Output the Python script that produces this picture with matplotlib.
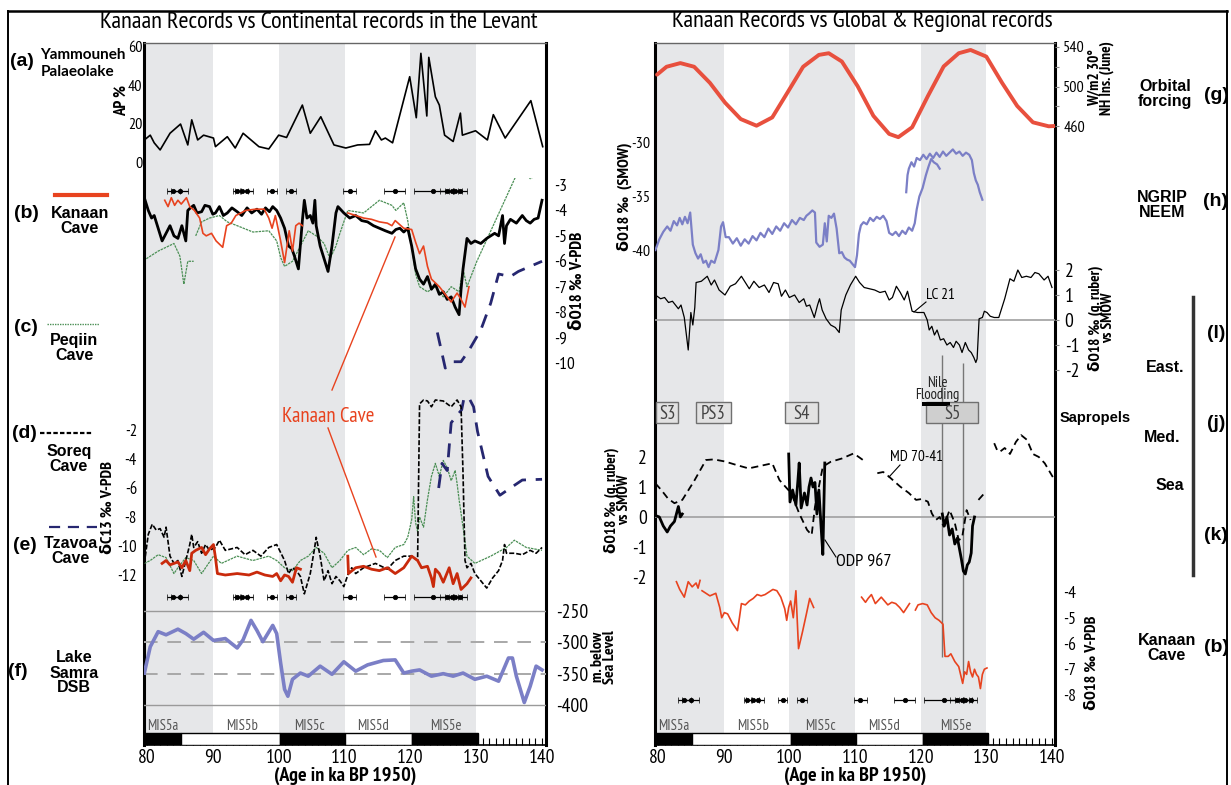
import numpy as np
import matplotlib
matplotlib.use('Agg')
import matplotlib.pyplot as plt
from matplotlib import font_manager as fm
from matplotlib.lines import Line2D
from matplotlib.ticker import MultipleLocator

_names = {f.name for f in fm.fontManager.ttflist}
NARROW = 'Liberation Sans'
for cand in ['PT Sans Narrow', 'Archivo Narrow', 'Liberation Sans Narrow']:
    if cand in _names:
        NARROW = cand
        break
plt.rcParams['font.family'] = [NARROW, 'DejaVu Sans']
plt.rcParams['axes.unicode_minus'] = False

# ---------------- DATA ----------------
bands = [(79.5, 90), (100, 110), (120, 130)]
mis_edges = [79.5, 85.2, 100.2, 110.1, 120.3, 130.3]
mis_colors = ['black', 'white', 'black', 'white', 'black']
mis_names = ['MIS5a', 'MIS5b', 'MIS5c', 'MIS5d', 'MIS5e']
mis_label_ages = [82.4, 94.5, 104.7, 114.4, 125.4]

date_ages = [84.0, 85.0, 93.6, 94.4, 95.2, 99.0, 101.9, 110.8, 117.6, 123.5, 125.5, 126.3, 126.8, 127.6]
date_err = [1.0, 1.3, 0.5, 1.0, 0.9, 0.7, 0.8, 1.0, 1.6, 3.0, 1.0, 1.0, 1.0, 1.0]

# (a) Yammouneh AP %
ap_age = [79.6, 80.5, 81.1, 82.0, 83.5, 85.1, 86.2, 86.8, 87.7, 88.6, 90.1, 90.4, 92.2, 93.4, 94.6, 97.0,
          98.5, 100.0, 101.2, 103.6, 104.8, 106.4, 108.4, 110.2, 112.0, 113.8, 114.7, 115.6, 116.2, 117.3,
          119.9, 120.9, 121.6, 122.5, 122.8, 123.8, 124.4, 125.2, 126.5, 127.6, 127.9, 129.9, 131.7, 132.6,
          134.4, 138.3, 140.1]
ap_val = [11.5, 14, 10, 6.3, 15, 19.8, 8.9, 22, 11.5, 14, 12.5, 8, 13.2, 7.3, 15, 8,
          6.8, 14, 12.8, 29.7, 15, 23.6, 8.9, 7.3, 8.9, 9.2, 16.3, 11.5, 12.5, 10,
          44.5, 23.1, 56.7, 24, 54.6, 34, 29.7, 14, 10.7, 25.5, 14, 16.3, 11.5, 24.7,
          12.5, 32, 8]

# (d) Soreq d18O
soreq_o_age = [79.6, 80.2, 80.7, 81.1, 81.7, 82.3, 82.9, 83.5, 84.1, 84.7, 85.3, 85.9, 86.2, 86.6, 87.1, 87.6,
               88.3, 88.8, 89.5, 90.0, 90.4, 91.0, 91.6, 92.2, 92.9, 93.7, 94.4, 95.2, 95.9, 96.7, 97.4, 98.0,
               98.6, 99.1, 99.7, 100.3, 100.9, 101.5, 102.0, 102.4, 103.0, 103.6, 103.9, 104.3, 104.8, 105.2,
               105.5, 105.7, 106.3, 106.9, 107.5, 108.1, 108.7, 109.0, 109.9, 110.8, 111.7, 112.6, 113.5,
               114.4, 115.3, 116.2, 117.2, 117.8, 118.4, 119.0, 119.6, 120.2, 120.8, 121.4, 122.0, 122.6,
               123.2, 123.8, 124.4, 125.0, 125.6, 126.2, 126.8, 127.4, 127.7, 128.0, 128.6, 129.2, 129.8,
               130.7, 131.6, 132.2, 132.8, 133.4, 134.0, 134.3, 134.6, 135.2, 136.1, 137.0, 137.6, 138.2,
               138.8, 139.4, 140.0]
soreq_o = [-3.5, -4.0, -4.3, -4.2, -4.7, -5.2, -4.9, -4.6, -5.0, -5.1, -4.6, -5.2, -4.0, -3.9, -3.8, -4.1,
           -4.05, -3.8, -3.85, -4.15, -4.1, -3.85, -4.2, -4.1, -3.9, -4.05, -4.2, -3.9, -4.1, -3.95, -4.15, -3.9,
           -4.05, -3.85, -4.0, -4.3, -4.7, -5.4, -5.5, -5.8, -6.3, -4.4, -3.6, -4.3, -4.2, -4.5,
           -3.6, -4.6, -5.4, -5.9, -6.4, -5.4, -4.1, -3.85, -4.1, -4.3, -4.2, -4.4, -4.45,
           -4.6, -4.7, -4.8, -4.9, -4.75, -4.7, -4.85, -4.7, -5.4, -6.3, -6.7, -6.9, -6.6,
           -7.1, -6.9, -7.3, -7.2, -7.5, -7.4, -7.8, -8.1, -7.1, -6.3, -5.1, -5.3, -5.2,
           -5.3, -5.1, -5.0, -4.9, -5.0, -4.2, -5.3, -4.6, -4.35, -4.5, -4.2, -4.4, -4.5,
           -4.35, -4.3, -3.6]

# (b) Kanaan d18O (left)
kanaan_o_age = [82.7, 83.2, 83.7, 84.2, 84.7, 85.2, 86.0, 86.5, 87.2, 88.0, 88.5, 89.0, 89.8, 90.5, 91.5,
                92.1, 92.8, 93.5, 95.0, 96.5, 97.8, 98.5, 99.0, 99.5, 100.3, 100.9, 101.6, 102.1, 102.6,
                103.1, 103.6, np.nan, 110.5, 111.7, 112.9, 114.1, 115.3, 116.5, 117.2, 117.7, 119.0, 120.2,
                120.8, 121.4, 122.0, 122.6, 123.2, 124.4, 125.6, 126.2, 127.1, 127.7, 128.3, 128.9]
kanaan_o = [-3.6, -3.85, -3.5, -3.8, -3.6, -3.75, -3.5, -3.85, -4.0, -4.3, -4.9, -5.0, -4.9, -5.2, -5.45,
            -4.6, -4.5, -4.2, -4.0, -3.95, -3.95, -4.3, -4.7, -4.2, -5.2, -6.05, -4.8, -5.6, -4.6,
            -4.5, -4.6, np.nan, -4.1, -4.2, -4.3, -4.35, -4.45, -4.5, -4.6, -4.4, -4.7, -4.75,
            -5.25, -5.7, -5.4, -6.2, -6.7, -7.0, -7.4, -7.6, -7.25, -7.5, -7.8, -7.0]

# (c) Peqiin d18O
peqiin_o_age = [79.9, 81.7, 84.1, 85.0, 85.6, 86.2, 87.1, np.nan, 87.4, 88.3, 89.5, 91.0, 92.2, 93.7, 96.1,
                98.5, 99.7, 100.3, 100.9, 102.1, 103.3, 104.5, 105.7, 106.9, 107.8, 108.7, 109.3, 110.5,
                112.9, 115.3, 117.2, 117.8, 119.0, 119.6, 120.2, 120.8, 121.4, 122.6, 123.8, 125.0, 126.2,
                127.4, 128.0, 128.6, 130.1, 136.2, 137.2, 138.2, 140.0]
peqiin_o = [-5.9, -5.6, -5.3, -5.8, -6.9, -6.0, -6.0, np.nan, -5.0, -4.45, -4.3, -4.2, -4.45, -4.6, -4.85,
            -4.8, -5.2, -5.85, -6.2, -6.0, -5.4, -4.8, -5.0, -5.3, -5.9, -5.4, -4.9, -4.0,
            -4.1, -3.6, -3.8, -4.0, -3.7, -4.4, -5.4, -6.5, -7.0, -7.2, -7.0, -7.4, -7.0,
            -7.2, -6.3, -7.0, -6.0, -2.55, -2.4, -2.75, -2.5]

# (e) Tzavoa d18O
tzavoa_o_age = [124.1, 125.3, 126.5, 127.7, 128.9, 130.7, 132.2, 133.4, 135.2, 136.4, 138.2, 140.0]
tzavoa_o = [-8.8, -10.2, -9.95, -9.95, -9.5, -8.7, -7.65, -6.5, -6.6, -6.4, -6.2, -6.0]

# d13C records
soreq_c_age = [79.6, 80.2, 80.8, 81.4, 82.0, 82.6, 82.9, 83.5, 84.1, 84.7, 85.3, 85.9, 86.5, 86.8, 87.1, 87.7,
               88.3, 88.9, 89.5, 90.4, 91.0, 91.9, 93.7, 94.9, 96.1, 97.3, 98.5, 99.7, 100.9, 101.5, 102.1,
               102.7, 103.3, 103.9, 104.8, 105.4, 105.7, 106.3, 106.9, 107.5, 108.1, 108.7, 109.3, 109.9,
               110.5, 111.1, 111.7, 112.9, 114.7, 116.5, 117.7, 119.0, 120.2, 121.1, 121.4, 122.0, 122.6,
               123.2, 123.8, 125.0, 126.2, 127.1, 127.7, 128.0, 128.3, 128.6, 129.2, 129.8, 130.7, 131.6,
               132.5, 133.4, 134.0, 134.3, 134.6, 135.8, 137.0, 138.2, 139.1, 140.0]
soreq_c = [-11.2, -9.2, -8.5, -8.9, -8.8, -9.4, -8.7, -10.7, -11.2, -11.0, -12.1, -11.0, -9.9, -9.2, -10.1, -9.7,
           -10.5, -9.9, -10.3, -10.1, -9.6, -10.3, -10.1, -10.6, -10.3, -10.7, -10.1, -9.9, -11.0, -11.9, -11.5,
           -11.7, -12.1, -13.3, -11.9, -10.3, -9.4, -10.7, -12.4, -11.7, -12.6, -12.1, -12.4, -12.8,
           -12.0, -11.5, -11.9, -11.5, -11.2, -11.6, -11.0, -10.7, -10.7, -11.0, -0.2, 0.07, 0.0,
           -0.4, 0.07, 0.0, -0.4, 0.07, -0.4, -5.0, -11.0, -11.5, -11.2, -11.9, -12.4, -12.9,
           -12.2, -11.7, -11.0, -9.9, -10.5, -10.5, -10.6, -10.3, -10.5, -10.1]

kanaan_c_age = [82.3, 82.9, 83.5, 84.1, 84.7, 85.3, 85.9, 86.5, 86.8, 87.4, 88.3, 88.9, 89.5, 90.1, 90.4, 90.7,
                91.9, 93.7, 95.5, 96.7, 97.9, 99.1, 99.7, 100.3, 100.9, 101.5, 102.1, 102.7, 103.3, np.nan,
                110.5, 110.6, 111.7, 112.9, 114.1, 115.3, 116.5, 117.7, 119.0, 120.2, 121.1, 121.7, 122.6,
                123.2, 123.5, 123.8, 124.4, 125.0, 125.9, 126.5, 127.1, 127.7, 128.6, 129.2]
kanaan_c = [-11.2, -11.0, -11.3, -11.2, -11.1, -11.5, -11.0, -11.7, -10.5, -10.3, -10.1, -10.6, -10.2, -9.9, -10.8, -11.9,
            -12.0, -11.9, -12.0, -11.8, -12.0, -12.1, -11.9, -12.4, -12.0, -12.1, -12.5, -11.5, -11.6, np.nan,
            -10.7, -11.9, -11.5, -11.4, -11.6, -11.7, -11.5, -11.9, -11.5, -10.7, -11.0, -11.5, -11.4,
            -12.2, -12.8, -11.6, -11.9, -12.5, -11.5, -12.6, -11.9, -13.0, -12.6, -12.2]

peqiin_c_age = [79.6, 80.5, 81.7, 82.9, 84.1, 84.7, 85.9, 87.1, 88.3, 88.9, 90.1, 91.3, 93.7, 96.1, 98.5, 99.7,
                100.9, 102.1, 103.3, 104.5, 105.7, 106.9, 108.1, 109.3, 110.5, 111.7, 112.9, 114.1, 115.3,
                116.5, 117.7, 119.0, 119.6, 120.2, 120.5, 120.8, 121.1, 121.4, 122.0, 122.6, 123.2, 123.8,
                124.4, 125.0, 125.6, 126.2, 126.8, 127.1, 127.4, 128.0, 128.6, 129.8, 132.2, 134.6, 135.8,
                137.6, 140.0]
peqiin_c = [-11.2, -11.0, -10.6, -10.8, -11.9, -11.5, -10.8, -11.0, -11.9, -11.5, -10.7, -11.2, -10.7, -11.0, -10.7, -11.0,
            -11.5, -11.7, -11.0, -10.7, -10.1, -10.5, -11.5, -11.0, -10.3, -10.1, -10.6, -10.2, -10.3,
            -10.8, -10.1, -9.9, -9.4, -8.2, -6.6, -8.4, -9.0, -8.0, -8.7, -6.8, -5.2, -4.3,
            -5.2, -4.1, -4.6, -5.5, -4.8, -5.7, -6.8, -8.7, -10.7, -11.2, -10.7, -10.1, -9.6,
            -10.1, -10.3]

tzavoa_c_age = [124.3, 124.8, 125.6, 126.2, 126.9, 127.8, 128.1, 128.8, 129.6, 130.2, 131.8, 133.6, 135.2, 137.0, 140.0]
tzavoa_c = [-6.0, -4.3, -4.8, -1.5, -1.1, -0.6, 0.1, 0.3, -0.4, -2.1, -5.2, -6.5, -6.0, -5.45, -5.4]

# (f) Lake Samra level
samra_age = [79.6, 80.5, 81.7, 82.9, 84.7, 85.9, 87.1, 88.6, 90.1, 91.9, 93.7, 94.6, 95.8, 96.7, 97.6, 99.1,
             99.7, 100.3, 100.9, 101.4, 102.1, 103.3, 104.5, 106.3, 108.1, 109.9, 111.7, 113.5, 115.9, 117.7,
             119.0, 120.2, 121.4, 123.2, 125.0, 126.5, 128.0, 129.8, 131.6, 133.4, 134.9, 135.5, 136.1,
             137.3, 138.2, 139.1, 140.0]
samra_lvl = [-349, -307, -283, -288, -279, -286, -295, -284, -297, -294, -309, -296, -265, -281, -299, -273,
             -286, -333, -375, -386, -359, -349, -354, -338, -351, -331, -346, -336, -329, -328,
             -349, -346, -344, -354, -350, -354, -349, -359, -354, -362, -325, -325, -354,
             -396, -370, -338, -344]

# (g) NH insolation, June 30N
ins_age = [79.85, 81.3, 83.4, 85.5, 87.9, 90.2, 92.6, 95.0, 97.4, 99.7, 102.1, 104.5, 106.0, 108.0, 110.4,
           112.8, 115.2, 116.6, 118.7, 121.1, 123.5, 125.8, 127.6, 130.0, 132.4, 134.7, 137.1, 139.5, 140.4]
ins_val = [512, 520, 523.7, 520, 503.7, 483.7, 467, 460.3, 468.7, 493.7, 520, 532, 533.7, 525.3, 500.3,
           470.3, 452, 448.7, 458.7, 490.3, 520.3, 533.7, 537, 530.3, 503.7, 480.3, 463.7, 459.7, 460]

# (h) NGRIP / NEEM d18O
ngrip_age = [79.6, 80.2, 80.8, 81.4, 81.9, 82.4, 82.9, 83.3, 83.7, 84.1, 84.5, 84.9, 85.3, 85.7, 86.1, 86.5,
             86.9, 87.3, 87.7, 88.1, 88.6, 89.2, 89.6, 89.9, 90.3, 90.8, 91.4, 92.0, 92.6, 93.2, 93.8, 94.4,
             95.0, 95.6, 96.2, 96.8, 97.4, 98.0, 98.6, 99.2, 99.8, 100.4, 101.0, 101.6, 102.2, 102.6, 103.0,
             103.5, 103.9, 104.1, 104.6, 105.1, 105.4, 105.7, 106.0, 106.4, 106.8, 107.2, 107.6, 108.0,
             108.4, 108.8, 109.2, 109.6, 110.0, 110.3, 110.6, 110.9, 111.3, 111.8, 112.3, 112.8, 113.3,
             113.8, 114.3, 114.8, 115.2, 115.7, 116.2, 116.7, 117.2, 117.7, 118.2, 118.7, 119.1, 119.4,
             119.8, 120.3, 120.8, 121.2, 121.6, 122.0, 122.5, 122.9]
ngrip_val = [-40.0, -39.0, -38.3, -37.8, -38.2, -37.3, -37.7, -37.0, -37.6, -36.9, -37.5, -36.5, -39.5, -40.3, -40.8, -40.4,
             -41.2, -41.0, -41.6, -41.0, -41.2, -40.0, -37.8, -37.4, -38.8, -38.8, -39.4, -38.9, -39.6, -39.0, -39.4, -38.7,
             -39.1, -38.4, -38.8, -38.0, -38.5, -37.8, -38.2, -37.5, -37.9, -37.2, -37.6, -37.0, -37.2, -36.8, -36.6,
             -36.3, -36.5, -39.3, -39.7, -39.5, -37.5, -39.2, -36.8, -37.0, -36.6, -38.0, -40.3, -40.2,
             -40.7, -40.9, -41.0, -41.3, -41.6, -40.5, -38.5, -37.7, -37.4, -37.6, -37.0, -37.3, -36.9,
             -37.1, -36.8, -37.3, -38.4, -38.6, -38.3, -38.7, -38.2, -38.5, -37.9, -38.2, -37.5, -36.2,
             -35.0, -34.2, -33.0, -32.2, -31.5, -31.8, -32.0, -32.4]
neem_age = [117.8, 118.0, 118.2, 118.6, 119.0, 119.4, 119.9, 120.4, 120.9, 121.4, 121.9, 122.4, 122.9, 123.4,
            123.9, 124.4, 124.9, 125.4, 125.9, 126.4, 126.9, 127.4, 127.8, 128.1, 128.4, 128.7, 129.0, 129.4]
neem_val = [-34.6, -33.0, -32.4, -31.8, -32.2, -31.4, -31.6, -31.1, -31.5, -31.0, -31.4, -30.9, -31.3, -30.8,
            -31.2, -30.9, -30.6, -31.0, -30.8, -31.2, -30.9, -31.1, -31.6, -32.8, -33.5, -33.9, -34.6, -35.3]

# (l) LC21 planktonic d18O
lc21_age = [79.6, 80.4, 81.0, 81.6, 82.2, 83.1, 83.5, 84.0, 84.6, 85.0, 85.3, 85.6, 85.8, 86.6, 87.5, 88.1, 88.6,
            89.3, 90.2, 91.0, 91.8, 92.7, 93.3, 93.9, 94.6, 95.4, 96.2, 96.9, 97.6, 98.3, 98.8, 99.4, 100.0,
            100.8, 101.5, 102.2, 102.6, 103.1, 103.8, 104.3, 104.6, 105.0, 105.6, 106.3, 107.0, 107.6, 107.9,
            108.6, 109.3, 110.1, 110.7, 111.4, 112.2, 113.0, 113.8, 114.6, 115.2, 115.7, 116.3, 116.9, 117.5,
            118.0, 118.7, 119.5, 120.5, 121.0, 121.3, 121.7, 122.1, 122.5, 123.0, 123.5, 124.0, 124.5, 125.0,
            125.4, 125.9, 126.3, 126.8, 127.3, 127.7, 128.1, 128.4, 128.6, 128.9, 129.4, 129.7, 130.1, 130.6,
            131.2, 131.9, 132.8, 133.6, 134.2, 134.8, 135.4, 136.1, 136.8, 137.4, 138.0, 138.8, 139.4, 140.0]
lc21_val = [1.0, 0.85, 0.9, 0.7, 0.75, 0.45, 0.6, 0.1, -1.2, 0.3, -0.2, 0.5, 1.5, 1.55, 1.75, 1.4, 1.6,
            1.2, 1.0, 1.35, 1.45, 1.75, 1.5, 1.25, 1.55, 1.3, 1.4, 1.1, 1.5, 1.45, 0.95, 1.2, 0.9,
            1.0, 0.7, 0.85, 0.55, 0.6, 0.1, 0.6, 0.85, 0.4, 0.05, -0.2, -0.3, -0.5, 0.4,
            1.0, 1.4, 1.75, 1.5, 1.3, 1.25, 1.2, 1.1, 1.15, 0.8, 0.9, 1.35, 1.1, 0.8,
            1.15, 0.35, 0.3, 0.3, 0.0, -0.4, -0.25, -0.6, -0.4, -0.8, -0.75, -1.0, -0.9, -1.1,
            -0.85, -1.0, -1.3, -0.9, -1.2, -1.3, -1.5, -1.7, -1.55, 0.05, 0.1, 0.35, 0.3, 0.15,
            0.1, 0.1, 0.85, 1.65, 1.55, 2.0, 1.7, 1.75, 1.7, 1.9, 1.85, 1.6, 1.75, 1.3]

# (j) sapropels
sap_names = ['S3', 'PS3', 'S4', 'S5']
sap_start = [79.7, 85.8, 99.4, 120.8]
sap_end = [83.1, 91.1, 104.3, 128.8]
nile_start, nile_end = 120.15, 124.5

# (k) MD 70-41 and ODP 967
md_age = [79.6, 80.5, 81.5, 82.5, 83.7, 85.5, 87.3, 88.5, 90.2, 92.0, 93.8, 95.5, 97.4, 98.5, 100.3, 101.5,
          102.7, 103.4, 103.9, 105.1, 106.3, 108.0, 109.8, 111.6, np.nan, 113.4, 114.3, 115.2, 116.9, 118.2,
          119.3, 120.2, 121.1, 121.7, 122.3, 122.9, 123.5, 124.4, 125.2, 125.8, 126.3, 127.0, 127.6, np.nan,
          128.8, 129.7, np.nan, 131.2, 131.7, 132.1, 132.8, 133.6, 134.5, 135.3, 136.2, 137.1, 138.0, 138.9,
          140.4]
md_val = [1.12, 0.9, 0.62, 0.46, 0.57, 1.2, 1.9, 1.92, 1.85, 1.73, 1.62, 1.7, 1.79, 1.23, 0.79, 0.12,
          -0.43, -0.6, 0.34, 1.68, 1.84, 1.95, 2.12, 1.84, np.nan, 1.46, 1.5, 1.34, 1.01, 0.8,
          0.57, 0.6, 0.51, 0.12, -0.1, 0.0, -0.32, 0.23, -0.2, -0.77, -0.7, 0.23, -0.1, np.nan,
          0.57, 0.79, np.nan, 2.46, 2.2, 2.18, 2.3, 2.1, 2.5, 2.73, 2.57, 2.1, 2.0, 1.79,
          1.23]
odp_age = [79.6, 80.2, 80.8, 81.4, 81.9, 82.5, 82.8, 83.1, 83.4, 83.7, np.nan,
           99.9, 100.1, 100.5, 101.0, 101.3, 101.5, 101.8, 102.3, 102.7, 103.0, 103.3, 103.6, 103.9, 104.2,
           104.5, 104.8, 105.1, 105.4, np.nan,
           123.3, 123.6, 124.0, 124.4, 124.8, 125.2, 125.6, 125.9, 126.2, 126.5, 126.8, 127.1, 127.4, 127.7,
           127.9, 128.2]
odp_val = [0.05, 0.0, -0.3, -0.5, -0.3, -0.15, 0.1, 0.35, 0.0, 0.1, np.nan,
           2.1, 0.5, 0.9, 0.4, 1.2, 1.8, 0.3, 0.8, 0.4, 1.0, 1.3, 1.0, 1.15, 0.1,
           0.9, -0.2, -1.25, 1.8, np.nan,
           0.1, -0.3, 0.0, -0.6, -0.4, -0.9, -0.7, -1.05, -1.4, -1.8, -1.9, -1.6, -1.5, -1.2,
           -0.3, 0.0]

# (b) Kanaan d18O (right panel)
kan_r_age = [82.8, 83.3, 84.0, 84.6, 85.2, 85.8, 86.1, 86.4, np.nan, 86.7, 87.3, 87.9, 88.8, 89.4, 89.7, 90.1,
             90.6, 91.3, 92.1, 92.4, 92.7, 93.3, 93.9, 94.5, 95.1, 95.7, 96.3, 96.9, 97.5, 98.1, 98.7, 99.3,
             99.6, 99.9, 100.2, 100.6, 101.0, 101.4, 102.0, 102.6, 103.1, 103.7, np.nan, 111.0, 111.6, 112.0,
             112.5, 113.1, 114.0, 114.5, 115.0, 115.6, 116.2, 116.8, 117.4, 118.3, np.nan, 119.2, 119.6,
             120.3, 121.0, 121.6, 122.2, 122.8, 123.4, 123.7, 124.2, 124.6, 125.2, 125.8, 126.4, 126.7,
             127.0, 127.3, 127.6, 127.9, 128.2, 128.5, 128.8, 129.1, 129.4, 129.7, 130.1]
kan_r_val = [-3.6, -3.9, -4.2, -3.6, -3.8, -3.65, -3.85, -3.55, np.nan, -3.95, -4.05, -4.15, -4.05, -4.6, -5.0, -4.8,
             -4.85, -5.2, -5.5, -5.0, -4.45, -4.5, -4.35, -4.25, -4.1, -4.15, -4.1, -4.0, -3.9, -3.95, -4.2, -4.65,
             -5.1, -4.6, -4.35, -5.0, -3.95, -6.2, -5.55, -4.85, -4.25, -4.6, np.nan, -4.2, -4.4, -4.25,
             -4.1, -4.45, -4.2, -4.35, -4.5, -4.4, -4.45, -4.6, -4.8, -4.45, np.nan, -4.7, -4.5,
             -4.45, -4.5, -4.8, -5.0, -5.1, -5.25, -6.5, -6.5, -6.4, -6.7, -6.9, -7.55, -7.1,
             -7.2, -6.7, -7.1, -7.3, -7.0, -7.2, -7.3, -7.75, -7.2, -7.0, -6.95]

link_ages = [123.3, 126.5]

# ---------------- STYLE ----------------
W, H = 1231, 785
BAND = '#e6e7e9'
RED = '#e8431f'
DRED = '#c92a0c'
GREEN = '#4b8f55'
NAVY = '#262770'
BLUE = '#7b7fc6'
XL = (79.55, 140.6)
XR = (79.54, 140.46)

fig = plt.figure(figsize=(W / 100, H / 100), dpi=100)


def T(x, y, s, **kw):
    kw.setdefault('ha', 'center')
    kw.setdefault('va', 'center')
    return fig.text(x / W, 1 - y / H, s, **kw)


def fline(xs, ys, **kw):
    fig.add_artist(Line2D([x / W for x in xs], [1 - y / H for y in ys], transform=fig.transFigure, **kw))


def base_axes(x0, x1, xlim):
    ax = fig.add_axes([x0 / W, 1 - 745 / H, (x1 - x0) / W, 702 / H])
    ax.set_xlim(*xlim)
    ax.set_ylim(0, 702)
    for a, b in bands:
        ax.axvspan(a, b, ymin=12 / 702, ymax=1, color=BAND, lw=0, zorder=0)
    for i in range(5):
        ax.bar(mis_edges[i], 12, width=mis_edges[i + 1] - mis_edges[i], bottom=0, align='edge',
               color=mis_colors[i], edgecolor='black', lw=1, zorder=3)
        ax.text(mis_label_ages[i], 19, mis_names[i], ha='center', va='center', fontsize=10.5, color='#555555')
    ax.spines['left'].set_linewidth(2.2)
    ax.spines['right'].set_linewidth(2.2)
    ax.spines['top'].set_linewidth(1.0)
    ax.spines['top'].set_color('#666666')
    ax.spines['bottom'].set_linewidth(1.2)
    ax.set_yticks([])
    ax.set_xticks(range(80, 141, 10))
    ax.xaxis.set_minor_locator(MultipleLocator(1))
    ax.tick_params(axis='x', which='major', direction='in', length=5, labelsize=14, pad=3)
    ax.tick_params(axis='x', which='minor', direction='in', length=5, width=0.8)
    return ax


def sub(x0, x1, y0, y1, xlim, p1, v1, p2, v2):
    ax = fig.add_axes([x0 / W, 1 - y1 / H, (x1 - x0) / W, (y1 - y0) / H])
    ax.patch.set_alpha(0)
    for s in ax.spines.values():
        s.set_visible(False)
    ax.set_xlim(*xlim)
    k = (v2 - v1) / (p2 - p1)
    ax.set_ylim(v1 + (y1 - p1) * k, v1 + (y0 - p1) * k)
    ax.set_xticks([])
    ax.set_yticks([])
    return ax


def yticks(ax, vals, side, labels=None, size=10.5, pad=4, length=0):
    ax.set_yticks(vals)
    if labels is not None:
        ax.set_yticklabels(labels)
    if side == 'right':
        ax.yaxis.tick_right()
    ax.tick_params(axis='y', length=length, pad=pad, labelsize=size, direction='out', color='#888888')


def date_row(x0, x1, y, xlim):
    ax = sub(x0, x1, y - 6, y + 6, xlim, y, 0, y - 1, 1)
    ax.errorbar(date_ages, [0] * len(date_ages), xerr=date_err, fmt='o', ms=3.2, color='black',
                elinewidth=0.9, capsize=2, capthick=0.9, mew=0.5)


# ---------------- LEFT PANEL ----------------
BL = base_axes(144, 546, XL)

axa = sub(144, 546, 43, 175, XL, 162, 0, 47, 60)
axa.plot(ap_age, ap_val, color='black', lw=1.2)
yticks(axa, [0, 20, 40, 60], 'left', size=11.5, pad=1)

date_row(144, 546, 191, XL)

axo = sub(144, 546, 178, 392, XL, 185, -3, 363, -10)
axo.plot(peqiin_o_age, peqiin_o, color=GREEN, lw=0.9, ls=(0, (2, 0.7)), zorder=2)
axo.plot(tzavoa_o_age, tzavoa_o, color=NAVY, lw=2.0, ls=(0, (5, 3.5)), zorder=2)
axo.plot(soreq_o_age, soreq_o, color='black', lw=2.0, zorder=3)
axo.plot(kanaan_o_age, kanaan_o, color=RED, lw=1.2, zorder=4)
yticks(axo, [-3, -4, -5, -6, -7, -8, -9, -10], 'right', size=12.5, pad=6)

axc = sub(144, 546, 385, 606, XL, 430, -2, 575, -12)
axc.plot(peqiin_c_age, peqiin_c, color=GREEN, lw=0.9, ls=(0, (2, 0.7)), zorder=2)
axc.plot(tzavoa_c_age, tzavoa_c, color=NAVY, lw=2.0, ls=(0, (5, 3.5)), zorder=2)
axc.plot(soreq_c_age, soreq_c, color='black', lw=1.2, ls=(0, (3, 1.2)), zorder=3)
axc.plot(kanaan_c_age, kanaan_c, color=DRED, lw=2.0, zorder=4)
yticks(axc, [-2, -4, -6, -8, -10, -12], 'left', size=12, pad=5)

date_row(144, 546, 597, XL)

axf = sub(144, 546, 608, 720, XL, 611, -250, 705, -400)
axf.axhline(-250, color='#9a9a9a', lw=1.0)
axf.axhline(-400, color='#9a9a9a', lw=1.0)
axf.axhline(-300, color='#a8a8a8', lw=1.4, ls=(0, (7, 5)))
axf.axhline(-350, color='#a8a8a8', lw=1.4, ls=(0, (7, 5)))
axf.plot(samra_age, samra_lvl, color=BLUE, lw=2.6, solid_joinstyle='round')
yticks(axf, [-250, -300, -350, -400], 'right', size=14, pad=7)

# ---------------- RIGHT PANEL ----------------
BR = base_axes(655, 1055, XR)
for a, top, bot in zip(link_ages, [355, 363], [657, 677]):
    BR.vlines(a, 745 - bot, 745 - top, color='#777777', lw=1.0, zorder=2)

axg = sub(655, 1055, 43, 140, XR, 47, 540, 126, 460)
axg.plot(ins_age, ins_val, color='#e8503e', lw=2.8, solid_capstyle='round')
yticks(axg, [460, 480, 500, 520, 540], 'right', labels=['460', '', '500', '', '540'], size=11.5, pad=3, length=3)

axh = sub(655, 1055, 130, 275, XR, 143, -30, 250, -40)
axh.plot(ngrip_age, ngrip_val, color=BLUE, lw=1.6)
axh.plot(neem_age, neem_val, color=BLUE, lw=1.6)
yticks(axh, [-30, -35, -40], 'left', size=11.5, pad=3)

axl = sub(655, 1055, 262, 380, XR, 270, 2, 370, -2)
axl.axhline(0, color='#a0a0a0', lw=1.2)
axl.plot(lc21_age, lc21_val, color='black', lw=0.9)
yticks(axl, [2, 1, 0, -1, -2], 'right', size=14, pad=4, length=3)

axs = sub(655, 1055, 380, 430, XR, 423, 0, 402, 1)
for nm, a, b in zip(sap_names, sap_start, sap_end):
    axs.bar(a, 1, width=b - a, bottom=0, align='edge', facecolor='#cfcfcf' if nm == 'S5' else '#e2e2e2',
            edgecolor='#707070', lw=1.0)
    axs.text((a + b) / 2, 0.45, nm, ha='center', va='center', fontsize=13.5, color='#444444')
axs.bar(nile_start, 0.22, width=nile_end - nile_start, bottom=0.8, align='edge', color='black')
axs.text((nile_start + nile_end) / 2 + 0.2, 1.62, 'Nile\nFlooding', ha='center', va='center', fontsize=10.5,
         linespacing=0.9, color='#222222')

axk = sub(655, 1055, 425, 600, XR, 457, 2, 577, -2)
axk.axhline(0, color='#a0a0a0', lw=1.2)
axk.plot(md_age, md_val, color='black', lw=1.3, ls=(0, (4, 2.5)))
axk.plot(odp_age, odp_val, color='black', lw=2.0)
yticks(axk, [2, 1, 0, -1, -2], 'left', size=14, pad=6)

axb = sub(655, 1055, 575, 712, XR, 592, -4, 695, -8)
axb.plot(kan_r_age, kan_r_val, color=RED, lw=1.2)
yticks(axb, [-4, -5, -6, -7, -8], 'right', size=12.5, pad=6)

date_row(655, 1055, 700, XR)

# ---------------- TEXT ----------------
T(319, 22, 'Kanaan Records vs Continental records in the Levant', fontsize=17.5)
T(862, 22, 'Kanaan Records vs Global & Regional records', fontsize=17.5)
T(345, 776, '(Age in ka BP 1950)', fontsize=14.5, fontweight='bold')
T(855, 776, '(Age in ka BP 1950)', fontsize=14.5, fontweight='bold')

T(122, 100, 'AP %', rotation=90, fontsize=12, fontweight='bold')
T(578, 281, 'δO18 ‰ V-PDB', rotation=90, fontsize=12, fontweight='bold')
T(108, 507, 'δC13 ‰ V-PDB', rotation=90, fontsize=11.5, fontweight='bold')
T(604, 657, 'm. below\nSea Level', rotation=90, fontsize=11.5, fontweight='bold', linespacing=0.9)

T(624, 197, 'δO18 ‰  (SMOW)', rotation=90, fontsize=11.5, fontweight='bold')
T(1101, 78, 'W/m2 30°\nNH Ins. (June)', rotation=90, fontsize=11, fontweight='bold', linespacing=0.85)
T(1101, 318, 'δO18 ‰ (g. ruber)\nvs SMOW', rotation=90, fontsize=11, fontweight='bold', linespacing=0.85)
T(617, 500, 'δO18 ‰ (g. ruber)\nvs SMOW', rotation=90, fontsize=11, fontweight='bold', linespacing=0.85)
T(1092, 663, 'δO18 ‰ V-PDB', rotation=90, fontsize=11.5, fontweight='bold')

LAB = dict(fontweight='bold', fontsize=11.5, family=['Liberation Sans', 'DejaVu Sans'], linespacing=1.0)
PAR = dict(fontsize=14, fontweight='bold', family=['Liberation Sans', 'DejaVu Sans'])
T(22, 62, '(a)', **PAR)
T(40, 55, 'Yammouneh', ha='left', fontweight='bold', fontsize=11, family=['Lato', 'DejaVu Sans'])
T(41, 72, 'Palaeolake', ha='left', fontweight='bold', fontsize=11, family=['Lato', 'DejaVu Sans'])
T(26, 213, '(b)', **PAR)
T(80, 221, 'Kanaan\nCave', **LAB)
T(26, 327, '(c)', **PAR)
T(74, 348, 'Peqiin\nCave', **LAB)
T(24, 434, '(d)', **PAR)
T(69, 459, 'Soreq\nCave', **LAB)
T(25, 545, '(e)', **PAR)
T(71, 551, 'Tzavoa\nCave', **LAB)
T(18, 672, '(f)', **PAR)
T(74, 673, 'Lake\nSamra\nDSB', **LAB)

T(1165, 94, 'Orbital\nforcing', **LAB)
T(1216, 95, '(g)', **PAR)
T(1162, 205, 'NGRIP\nNEEM', **LAB)
T(1216, 202, '(h)', **PAR)
T(1216, 333, '(l)', **PAR)
T(1165, 368, 'East.', **LAB)
T(1095, 418, 'Sapropels', fontweight='bold', fontsize=10.5, family=['Liberation Sans', 'DejaVu Sans'])
T(1162, 437, 'Med.', **LAB)
T(1216, 423, '(j)', **PAR)
T(1170, 485, 'Sea', **LAB)
T(1216, 535, '(k)', **PAR)
T(1167, 648, 'Kanaan\nCave', **LAB)
T(1216, 648, '(b)', **PAR)

# legend samples
fline([55, 107], [195, 195], color=RED, lw=3)
fline([47, 99], [324, 324], color=GREEN, lw=1.0, ls=(0, (1, 0.8)))
fline([40, 93], [433, 433], color='black', lw=1.6, ls=(0, (2, 1)))
fline([49, 97], [527, 527], color=NAVY, lw=1.6, ls=(0, (5, 3.5)))

# annotations
T(328, 417, 'Kanaan Cave', fontsize=15, color=RED)
fline([332, 395], [390, 237], color=RED, lw=1.0)
fline([328, 376], [428, 557], color=RED, lw=1.0)
T(940, 295, 'LC 21', fontsize=11)
fline([926, 914], [302, 312], color='black', lw=0.8)
T(916, 457, 'MD 70-41', fontsize=11)
fline([900, 889], [465, 477], color='black', lw=0.8)
T(864, 562, 'ODP 967', fontsize=13)
fline([836, 825], [557, 540], color='black', lw=0.8)

# bracket and outer frame
fline([1193, 1193], [297, 575], color='#333333', lw=2.5)
fline([8, 1227], [11, 11], color='black', lw=1.8)
fline([8, 8], [11, 785], color='black', lw=1.4)
fline([1227, 1227], [11, 785], color='black', lw=1.4)

fig.savefig('out.png', dpi=100)
